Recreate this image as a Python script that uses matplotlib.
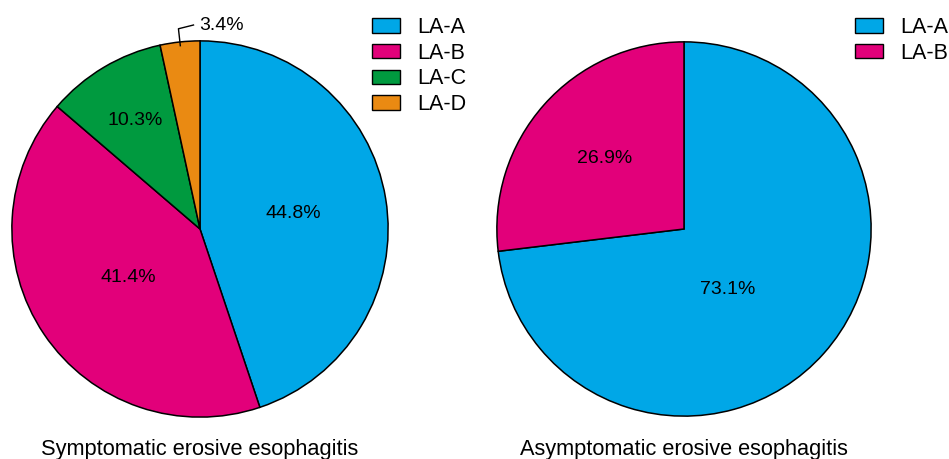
import numpy as np
import matplotlib
matplotlib.use("Agg")
import matplotlib.pyplot as plt

plt.rcParams["font.family"] = ["Liberation Sans", "DejaVu Sans"]

grades = ["LA-A", "LA-B", "LA-C", "LA-D"]
colors = ["#00a7e7", "#e2007a", "#009a3f", "#ea8a12"]
symptomatic = [44.8, 41.4, 10.3, 3.4]
asymptomatic = [73.1, 26.9]
titles = ["Symptomatic erosive esophagitis", "Asymptomatic erosive esophagitis"]

W, H = 949, 459
fig = plt.figure(figsize=(W / 100, H / 100), dpi=100)


def px_axes(cx, cy, r):
    return fig.add_axes([(cx - r) / W, (H - cy - r) / H, 2 * r / W, 2 * r / H])


def draw_pie(ax, values, label_r, label_shift):
    wedges, _ = ax.pie(values, colors=colors[:len(values)], startangle=90,
                       counterclock=False, radius=1.0,
                       wedgeprops=dict(edgecolor="black", linewidth=1.1))
    for w, v, r, s in zip(wedges, values, label_r, label_shift):
        if r is None:
            continue
        ang = np.deg2rad((w.theta1 + w.theta2) / 2 + s)
        ax.text(r * np.cos(ang), r * np.sin(ang), f"{v}%", ha="center",
                va="center", fontsize=14)
    ax.set_xlim(-1.01, 1.01)
    ax.set_ylim(-1.01, 1.01)
    ax.set_aspect("equal")
    ax.axis("off")
    return wedges


ax1 = px_axes(200, 229, 190)
w1 = draw_pie(ax1, symptomatic, [0.5, 0.46, 0.67, None], [0, 0, 0, 0])
# small LA-D slice gets an outside label with a leader line
w = w1[3]
ang = np.deg2rad((w.theta1 + w.theta2) / 2)
x0, y0 = 0.98 * np.cos(ang), 0.98 * np.sin(ang)
ax1.plot([x0, x0 - 0.01, x0 + 0.07], [y0, y0 + 0.09, y0 + 0.11],
         color="black", lw=1.0, clip_on=False)
ax1.text(x0 + 0.1, y0 + 0.11, f"{symptomatic[3]}%", ha="left", va="center",
         fontsize=14)

ax2 = px_axes(684, 229, 189)
draw_pie(ax2, asymptomatic, [0.4, 0.57], [-13, 0])

for ax, n, cx, lx, title in [(ax1, 4, 200, 372, titles[0]),
                             (ax2, 2, 684, 855, titles[1])]:
    handles = [plt.Rectangle((0, 0), 1, 1, facecolor=c, edgecolor="black", lw=1.0)
               for c in colors[:n]]
    fig.legend(handles, grades[:n], loc="upper left",
               bbox_to_anchor=(lx / W, 1 - 17 / H), frameon=False, fontsize=15.5,
               handlelength=1.3, handleheight=0.65, handletextpad=0.8,
               labelspacing=0.22, borderaxespad=0, borderpad=0)
    fig.text(cx / W, 1 - 449 / H, title, ha="center", va="center",
             fontsize=15.7)

fig.savefig("out.png", dpi=100)
